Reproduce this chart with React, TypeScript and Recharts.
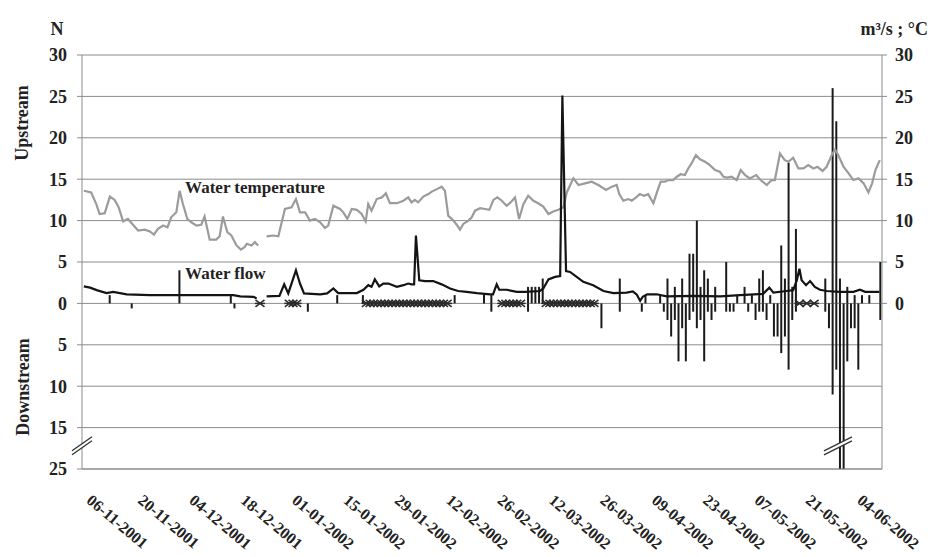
import { Bar, CartesianGrid, ComposedChart, Line, ReferenceDot, Scatter, XAxis, YAxis } from "recharts";

// day 0 = 04-11-2001, one row per day up to 09-06-2002
const DAYS = 218;

const tickDays = [2, 16, 30, 44, 58, 72, 86, 100, 114, 128, 142, 156, 170, 184, 198, 212];
const tickLabels = [
  "06-11-2001", "20-11-2001", "04-12-2001", "18-12-2001", "01-01-2002", "15-01-2002",
  "29-01-2002", "12-02-2002", "26-02-2002", "12-03-2002", "26-03-2002", "09-04-2002",
  "23-04-2002", "07-05-2002", "21-05-2002", "04-06-2002",
];

// water temperature (°C), [day, value]; null = no reading
const temperature: [number, number | null][] = [
  [0, 13.6], [2, 13.4], [3.4, 12.0], [4.3, 10.8], [5.7, 10.9], [7.1, 12.9], [8.4, 12.5], [9.5, 11.6],
  [10.7, 9.9], [12, 10.2], [13.4, 9.5], [14.8, 8.8], [16.6, 8.9], [18, 8.7], [19.1, 8.3], [20.2, 9.0],
  [21.6, 9.4], [22.8, 9.2], [23.8, 10.4], [25.2, 11.0], [26.1, 13.6], [27, 12.0], [28.2, 10.2], [29.3, 9.8],
  [30.7, 9.4], [32, 9.5], [32.9, 10.5], [34.3, 7.7], [36.1, 7.7], [37, 8.1], [37.9, 10.5], [39.1, 8.6],
  [40.2, 8.2], [41.6, 7.0], [42.8, 6.5], [43.8, 6.8], [44.4, 7.2], [45.7, 7.0], [46.6, 7.4], [47.5, 7.0],
  [48.6, null],
  [49.8, 8.1], [51.6, 8.2], [53, 8.1], [54.8, 11.4], [56.6, 11.6], [57.8, 12.6], [58.9, 11.0], [60.3, 11.0],
  [61.6, 10.0], [63, 10.2], [64.4, 9.8], [65.7, 9.1], [66.6, 9.4], [68, 11.8], [69.8, 11.4], [70.7, 11.0],
  [71.8, 10.2], [73, 11.4], [74.4, 11.3], [75.7, 10.8], [76.8, 9.9], [77.5, 12.0], [78.4, 11.2], [79.8, 12.6],
  [81.2, 12.8], [82.3, 13.3], [83.4, 12.1], [85.3, 12.1], [87.1, 12.4], [88.4, 12.8], [89.3, 12.2], [90.2, 12.5],
  [91.1, 12.2], [92.5, 12.9], [93.9, 13.2], [94.8, 13.5], [96.2, 13.8], [97.5, 14.1], [98.4, 13.6], [99.3, 10.6],
  [100.7, 10.0], [101.6, 9.5], [102.5, 8.9], [103.4, 9.6], [104.8, 10.0], [105.7, 10.4], [106.6, 11.2], [108, 11.5],
  [109.3, 11.4], [110.5, 11.3], [111.6, 12.5], [112.7, 12.8], [113.9, 12.4], [115.2, 11.8], [116.1, 12.1], [117.5, 12.8],
  [118.6, 10.2], [119.8, 12.0], [121.1, 13.0], [122.5, 12.4], [123.8, 12.1], [125.2, 11.7], [126.6, 10.8], [127.9, 11.1],
  [129.3, 11.3], [130.7, 11.6], [131.6, 13.4], [133.4, 15.1], [134.8, 14.3], [136.6, 14.5], [138.4, 14.7], [140.2, 14.3],
  [142.3, 13.7], [143.9, 14.1], [145.2, 14.3], [145.9, 13.2], [147, 12.4], [148.4, 12.6], [149.3, 12.4], [150.5, 12.8],
  [151.5, 13.2], [152.6, 13.0], [153.8, 13.2], [155.2, 12.1], [156.3, 13.6], [157.2, 14.7], [158.4, 14.7], [159.3, 14.9],
  [160.6, 14.9], [161.6, 15.3], [162.6, 15.6], [163.8, 15.5], [164.7, 16.3], [165.6, 16.9], [166.8, 17.9], [167.9, 17.4],
  [169.3, 17.1], [170.6, 16.7], [172, 16.1], [173.3, 15.9], [174.3, 15.3], [175.3, 15.2], [176.5, 15.3], [177.9, 14.9],
  [179, 16.1], [180.2, 15.5], [181.5, 15.1], [183.2, 15.5], [184.4, 14.9], [186.1, 14.3], [187.4, 14.9], [188.3, 14.9],
  [189.7, 18.1], [191, 17.3], [192, 17.1], [193.3, 17.6], [194.7, 16.3], [196.1, 16.3], [197.4, 16.7], [198.8, 16.3],
  [199.9, 16.5], [201.3, 16.0], [202.4, 16.5], [203.8, 17.9], [204.7, 18.6], [205.6, 17.9], [207, 16.5], [208.4, 15.7],
  [209.7, 14.9], [211.1, 15.1], [212.5, 14.5], [213.8, 13.4], [214.8, 14.5], [215.7, 16.1], [216.9, 17.3],
];

// water flow (m³/s), [day, value]
const flow: [number, number | null][] = [
  [0, 2.05], [1.7, 1.9], [3.5, 1.6], [6.2, 1.25], [8, 1.4], [11.7, 1.1], [18, 1.0], [25.3, 1.0], [31.7, 1.0],
  [40.7, 1.0], [42.6, 0.85], [46.2, 0.8], [47.1, 0.6],
  [48.5, null],
  [49.8, 0.85], [53.3, 0.9], [54.6, 2.3], [55.7, 1.2], [57.8, 4.0], [58.9, 2.4], [60, 1.2], [64.4, 1.1],
  [66.3, 1.2], [68, 1.8], [69.3, 1.25], [74.4, 1.25], [76.2, 1.65], [77.5, 2.2], [78.4, 2.0], [79.3, 2.9],
  [80.5, 2.05], [81.6, 2.4], [83, 2.4], [85.3, 2.0], [87.1, 2.2], [88.4, 2.4], [89.3, 2.3], [90, 2.3],
  [90.5, 8.2], [91.4, 2.8], [93, 2.7], [95.2, 2.7], [97.5, 2.3], [99.8, 1.8], [102, 1.5], [104.3, 1.4],
  [107.1, 1.25], [110.7, 1.1], [111.5, 1.1], [112.5, 2.3], [113.2, 1.65], [115.2, 1.65], [118, 1.4], [120.2, 1.4],
  [124.3, 1.5], [125.2, 1.8], [126.6, 2.9], [128.4, 3.2], [129.8, 3.3], [130.4, 25.1], [131.4, 3.9], [132.5, 3.8],
  [134.3, 3.2], [136.1, 2.6], [138.8, 2.2], [141.6, 1.5], [144.3, 1.25], [147.9, 1.3], [149.6, 1.45], [150.7, 1.05],
  [151.6, 0.3], [152.3, 0.8], [153.5, 1.1], [156.1, 1.1], [158.8, 0.85], [166.1, 0.9], [173.4, 0.85], [178.8, 1.0],
  [185.1, 1.15], [186.8, 1.9], [187.9, 1.3], [191.5, 1.5], [193.3, 1.6], [194.3, 2.8], [195, 4.2], [195.6, 2.8],
  [196.8, 2.2], [197.9, 2.7], [199.2, 2.0], [200.6, 1.65], [202.4, 1.5], [206, 1.4], [209.7, 1.4], [211.5, 1.65],
  [212.9, 1.4], [216.8, 1.4],
];

// fish counted per day, [day, N]
const upstream: [number, number][] = [
  [7, 1], [26, 4], [40, 1], [69, 1], [76, 1], [101, 1], [109, 1], [111, 1], [121, 2], [122, 2], [123, 2],
  [124, 2], [125, 3], [146, 3], [153, 1], [157, 1], [159, 3], [161, 2], [163, 3], [165, 6], [166, 6],
  [167, 10], [168, 2], [169, 4], [170, 3], [172, 2], [175, 5], [178, 1], [180, 2], [182, 1], [184, 3],
  [185, 4], [187, 1], [190, 7], [191, 3], [192, 17], [193, 2], [194, 9], [202, 3], [204, 26], [205, 22],
  [206, 3], [208, 2], [210, 1], [212, 1], [214, 1], [217, 5],
];
const downstream: [number, number][] = [
  [13, 0.6], [41, 0.6], [61, 1], [111, 1], [121, 1], [141, 3], [146, 1], [152, 1], [158, 1], [159, 2],
  [160, 4], [161, 2], [162, 7], [163, 3], [164, 7], [165, 2], [166, 1], [167, 3], [168, 2], [169, 7],
  [170, 1], [171, 2], [172, 1], [175, 1], [176, 1], [177, 1], [181, 1], [183, 2], [184, 1], [185, 1],
  [186, 2], [188, 4], [189, 4], [190, 6], [191, 4], [192, 8], [193, 2], [194, 1], [202, 1], [203, 3],
  [204, 11], [205, 8], [206, 25], [207, 25], [208, 7], [209, 3], [210, 3], [211, 8], [217, 2],
];

// days marked with an asterisk on the zero line
const starDays = [
  48, 56, 57, 58, 77, 78, 79, 80, 81, 82, 83, 84, 85, 86, 87, 88, 89, 90, 91, 92, 93, 94, 95, 96, 97, 98, 99,
  114, 115, 116, 117, 118, 119, 126, 127, 128, 129, 130, 131, 132, 133, 134, 135, 136, 137, 138, 139,
  195, 197, 199,
];

const leftTicks = [-20, -15, -10, -5, 0, 5, 10, 15, 20, 25, 30];
const rightTicks = [0, 5, 10, 15, 20, 25, 30];

// downstream axis is broken between 15 and 25
const toAxis = (n: number) => (n <= 15 ? n : 15 + (n - 15) / 2);
const fromAxis = (v: number) => (v <= 15 ? v : 15 + (v - 15) * 2);

const upMap = new Map(upstream);
const downMap = new Map(downstream);
const rows = Array.from({ length: DAYS }, (_, day) => ({
  day,
  up: upMap.get(day) ?? null,
  down: downMap.has(day) ? -toAxis(downMap.get(day)!) : null,
}));
const tempRows = temperature.map(([day, temp]) => ({ day, temp }));
const flowRows = flow.map(([day, q]) => ({ day, q }));
const starRows = starDays.map((day) => ({ day, y: 0 }));

const FONT = '"Liberation Serif", "Times New Roman", serif';
const GRID = "#8c8c8c";
const DOMAIN: [number, number] = [-0.5, DAYS - 0.5];

const DateTick = ({ x, y, payload }: any) => {
  const i = tickDays.indexOf(payload.value);
  return (
    <g transform={`translate(${x - 3},${y})`}>
      <text transform="rotate(40)" x={0} y={0} dy={4} textAnchor="start" fontFamily={FONT} fontWeight="bold" fontSize={16} fill="#222">
        {tickLabels[i]}
      </text>
    </g>
  );
};

const Star = ({ cx, cy }: any) => (
  <g stroke="#2a2a2a" strokeWidth={1.5}>
    <line x1={cx - 4.5} y1={cy - 3.5} x2={cx + 4.5} y2={cy + 3.5} />
    <line x1={cx - 4.5} y1={cy + 3.5} x2={cx + 4.5} y2={cy - 3.5} />
    <line x1={cx - 5} y1={cy} x2={cx + 5} y2={cy} />
  </g>
);

const BreakMark = ({ cx, cy, w }: any) => (
  <g>
    <polygon points={`${cx - w},${cy + 5} ${cx + w},${cy - 9} ${cx + w},${cy - 5} ${cx - w},${cy + 9}`} fill="#fff" />
    <line x1={cx - w} y1={cy + 5} x2={cx + w} y2={cy - 9} stroke="#333" strokeWidth={1.3} />
    <line x1={cx - w} y1={cy + 9} x2={cx + w} y2={cy - 5} stroke="#333" strokeWidth={1.3} />
  </g>
);

const NoteText = ({ cx, cy, text }: any) => (
  <text x={cx} y={cy} fontFamily={FONT} fontWeight="bold" fontSize={17} fill="#222">
    {text}
  </text>
);

const axisTick = { fontFamily: FONT, fontWeight: "bold", fontSize: 18, fill: "#222" };

export default function App() {
  return (
    <div style={{ position: "absolute", left: 0, top: 0, width: 930, height: 557, background: "#fff" }}>
      <ComposedChart width={930} height={557} data={rows} stackOffset="sign" margin={{ top: 55, right: 0, bottom: 0, left: 0 }}>
        <CartesianGrid horizontal vertical={false} stroke={GRID} yAxisId="left" />
        <XAxis
          type="number"
          dataKey="day"
          domain={DOMAIN}
          ticks={tickDays}
          interval={0}
          height={88}
          tickSize={0}
          tickMargin={30}
          tick={<DateTick />}
          axisLine={{ stroke: GRID }}
          allowDataOverflow
        />
        {/* separate hidden axis for the daily bars so their band width is one day */}
        <XAxis xAxisId="bars" type="number" dataKey="day" domain={DOMAIN} hide allowDataOverflow />
        <YAxis
          yAxisId="left"
          type="number"
          domain={[-20, 30]}
          ticks={leftTicks}
          interval={0}
          width={82}
          tickSize={5}
          tickMargin={10}
          tick={axisTick}
          tickLine={{ stroke: GRID }}
          axisLine={{ stroke: GRID }}
          tickFormatter={(v: number) => String(v >= 0 ? v : fromAxis(-v))}
          allowDataOverflow
        />
        <YAxis
          yAxisId="right"
          orientation="right"
          type="number"
          domain={[-20, 30]}
          ticks={rightTicks}
          interval={0}
          width={48}
          tickSize={5}
          tickMargin={8}
          tick={{ ...axisTick, textAnchor: "start" }}
          tickLine={{ stroke: GRID }}
          axisLine={{ stroke: GRID }}
          allowDataOverflow
        />
        <Bar xAxisId="bars" yAxisId="left" dataKey="up" stackId="n" fill="#1a1a1a" barSize={2} isAnimationActive={false} />
        <Bar xAxisId="bars" yAxisId="left" dataKey="down" stackId="n" fill="#1a1a1a" barSize={2} isAnimationActive={false} />
        <Scatter yAxisId="left" data={starRows} dataKey="y" shape={<Star />} isAnimationActive={false} />
        <Line yAxisId="left" data={tempRows} dataKey="temp" type="linear" stroke="#9b9b9b" strokeWidth={2.2} dot={false} activeDot={false} connectNulls={false} isAnimationActive={false} />
        <Line yAxisId="left" data={flowRows} dataKey="q" type="linear" stroke="#141414" strokeWidth={2.2} dot={false} activeDot={false} connectNulls={false} isAnimationActive={false} />
        <ReferenceDot yAxisId="left" x={-0.5} y={-17.2} ifOverflow="visible" shape={(p: any) => <BreakMark {...p} w={10} />} />
        <ReferenceDot yAxisId="left" x={205.5} y={-17.2} ifOverflow="visible" shape={(p: any) => <BreakMark {...p} w={14} />} />
        <ReferenceDot yAxisId="left" x={27.6} y={13.3} ifOverflow="visible" shape={(p: any) => <NoteText {...p} text="Water temperature" />} />
        <ReferenceDot yAxisId="left" x={27.6} y={2.9} ifOverflow="visible" shape={(p: any) => <NoteText {...p} text="Water flow" />} />
      </ComposedChart>
      <svg width={930} height={557} style={{ position: "absolute", left: 0, top: 0, pointerEvents: "none" }}>
        <g fontFamily={FONT} fontWeight="bold" fontSize={18} fill="#222">
          <text x={57} y={35} textAnchor="middle">N</text>
          <text x={928} y={35} textAnchor="end">m³/s ; °C</text>
          <text transform="translate(28,123) rotate(-90)" textAnchor="middle">Upstream</text>
          <text transform="translate(29,387) rotate(-90)" textAnchor="middle">Downstream</text>
        </g>
      </svg>
    </div>
  );
}
